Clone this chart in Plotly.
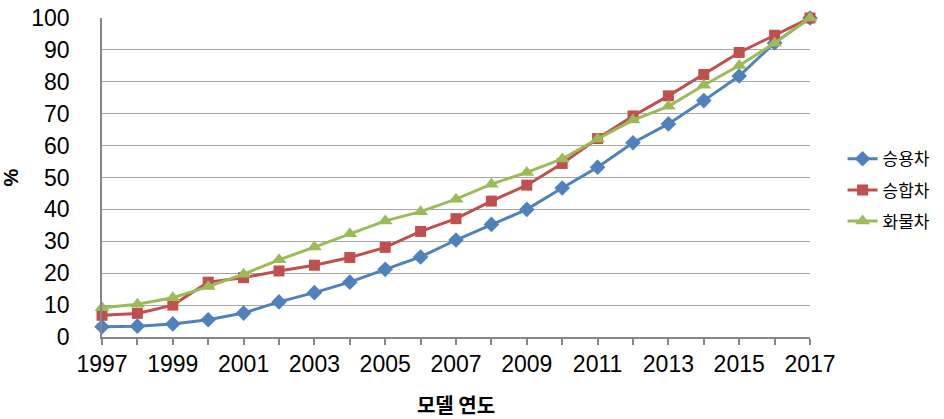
import plotly.graph_objects as go

# Model years and cumulative share (%) by vehicle type
years = list(range(1997, 2018))

passenger = [3.2, 3.4, 4.1, 5.4, 7.5, 11.0, 13.9, 17.2, 21.2, 25.1, 30.4, 35.3,
             40.0, 46.7, 53.2, 60.9, 66.8, 74.1, 81.8, 92.2, 100.0]
van = [6.8, 7.4, 10.0, 17.2, 18.6, 20.7, 22.5, 24.9, 28.1, 33.1, 37.1, 42.6,
       47.6, 54.4, 62.2, 69.3, 75.6, 82.3, 89.2, 94.6, 100.0]
truck = [9.2, 10.3, 12.3, 15.8, 19.7, 24.2, 28.2, 32.4, 36.4, 39.3, 43.2, 47.9,
         51.6, 55.8, 62.1, 68.0, 72.3, 78.9, 85.1, 92.1, 100.0]

series_names = ["승용차", "승합차", "화물차"]
y_ticks = list(range(0, 101, 10))
x_tick_labels = [str(y) if (y - 1997) % 2 == 0 else "" for y in years]

FONT = "Liberation Sans, Arial, Noto Sans CJK KR, sans-serif"
KFONT = "Noto Sans CJK KR, Liberation Sans, sans-serif"

styles = [
    dict(color="#4F81BD", symbol="diamond", size=12),
    dict(color="#C0504D", symbol="square", size=11),
    dict(color="#9BBB59", symbol="triangle-up", size=13),
]

fig = go.Figure()
for name, vals, st in zip(series_names, [passenger, van, truck], styles):
    fig.add_trace(go.Scatter(
        x=years, y=vals, name=name, legendgroup=name, mode="lines+markers",
        line=dict(color=st["color"], width=3),
        marker=dict(color=st["color"], symbol=st["symbol"], size=st["size"]),
        cliponaxis=False,
    ))

fig.update_layout(
    width=944, height=419,
    margin=dict(l=102, r=134, t=18, b=82, autoexpand=False),
    plot_bgcolor="white", paper_bgcolor="white",
    font=dict(family=FONT, color="black"),
    showlegend=True,
    legend=dict(
        x=1.046, y=0.46, xanchor="left", yanchor="middle",
        font=dict(family=KFONT, size=17, color="black"),
        itemwidth=30, tracegroupgap=6,
    ),
)

fig.update_xaxes(
    range=[1997, 2017], automargin=False,
    tickmode="array", tickvals=years, ticktext=x_tick_labels,
    ticks="outside", ticklen=6, tickcolor="#868686", tickwidth=1.5,
    showline=True, linecolor="#868686", linewidth=1.5,
    showgrid=False, zeroline=False,
    tickfont=dict(family=FONT, size=23),
    title=dict(text="<b>모델 연도</b>", font=dict(family=KFONT, size=20), standoff=32),
)
fig.update_yaxes(
    range=[0, 100], automargin=False,
    tickmode="array", tickvals=y_ticks,
    ticks="", showline=True, linecolor="#868686", linewidth=1.5,
    showgrid=True, gridcolor="#A6A6A6", gridwidth=1.2,
    zeroline=False,
    tickfont=dict(family=FONT, size=23),
    ticklabelstandoff=26,
    title=dict(text="<b>%</b>", font=dict(family=FONT, size=20), standoff=14),
)

fig.write_html("out.html")
